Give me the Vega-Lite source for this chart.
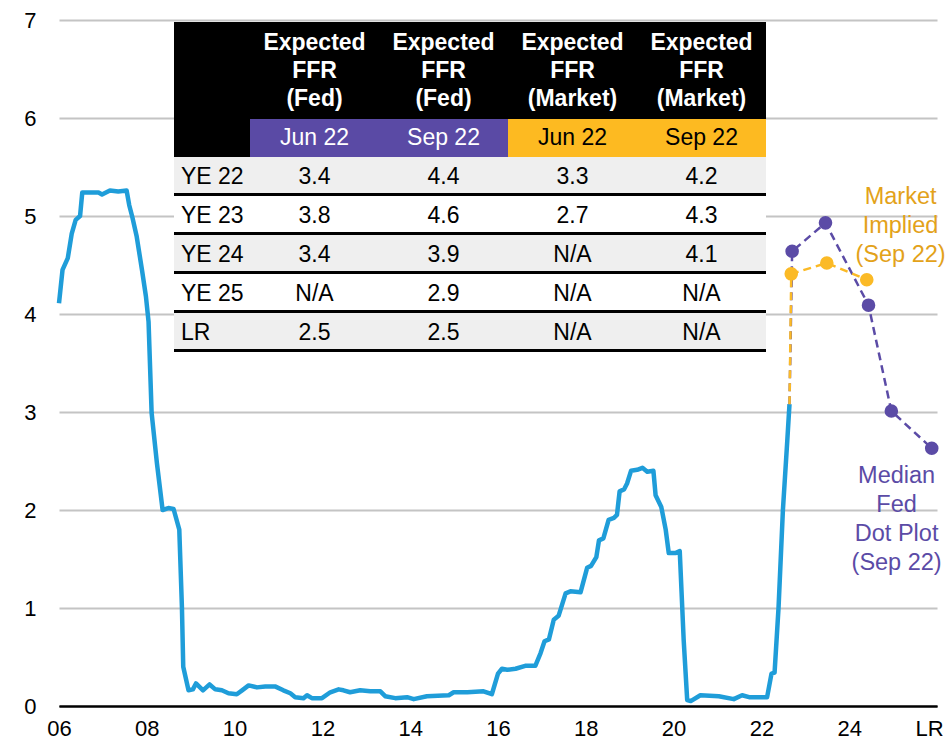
{
  "$schema": "https://vega.github.io/schema/vega-lite/v6.json",
  "width": 878,
  "height": 686,
  "autosize": {"type": "none"},
  "padding": {"left": 59, "top": 20, "right": 12, "bottom": 38},
  "background": "white",
  "config": {"font": "Liberation Sans", "view": {"stroke": null}},
  "datasets": {
    "ffr": [
      {"year": 2006.00, "rate": 4.11}, {"year": 2006.08, "rate": 4.45}, {"year": 2006.20, "rate": 4.57},
      {"year": 2006.29, "rate": 4.82}, {"year": 2006.38, "rate": 4.96}, {"year": 2006.48, "rate": 5.00},
      {"year": 2006.53, "rate": 5.24}, {"year": 2006.90, "rate": 5.24}, {"year": 2006.98, "rate": 5.22},
      {"year": 2007.16, "rate": 5.26}, {"year": 2007.35, "rate": 5.25}, {"year": 2007.54, "rate": 5.26},
      {"year": 2007.60, "rate": 5.11}, {"year": 2007.67, "rate": 4.99}, {"year": 2007.77, "rate": 4.79},
      {"year": 2007.89, "rate": 4.45}, {"year": 2007.98, "rate": 4.18}, {"year": 2008.04, "rate": 3.92},
      {"year": 2008.11, "rate": 2.99}, {"year": 2008.23, "rate": 2.48}, {"year": 2008.36, "rate": 2.00},
      {"year": 2008.49, "rate": 2.02}, {"year": 2008.61, "rate": 2.01}, {"year": 2008.74, "rate": 1.80},
      {"year": 2008.80, "rate": 1.01}, {"year": 2008.83, "rate": 0.40}, {"year": 2008.95, "rate": 0.16},
      {"year": 2009.05, "rate": 0.17}, {"year": 2009.12, "rate": 0.23}, {"year": 2009.28, "rate": 0.16},
      {"year": 2009.43, "rate": 0.22}, {"year": 2009.56, "rate": 0.17}, {"year": 2009.71, "rate": 0.16},
      {"year": 2009.86, "rate": 0.13}, {"year": 2010.05, "rate": 0.12}, {"year": 2010.17, "rate": 0.16},
      {"year": 2010.32, "rate": 0.21}, {"year": 2010.51, "rate": 0.19}, {"year": 2010.70, "rate": 0.20},
      {"year": 2010.92, "rate": 0.20}, {"year": 2011.11, "rate": 0.16}, {"year": 2011.27, "rate": 0.13},
      {"year": 2011.38, "rate": 0.09}, {"year": 2011.57, "rate": 0.08}, {"year": 2011.65, "rate": 0.11},
      {"year": 2011.76, "rate": 0.08}, {"year": 2011.99, "rate": 0.08}, {"year": 2012.18, "rate": 0.14},
      {"year": 2012.37, "rate": 0.17}, {"year": 2012.48, "rate": 0.16}, {"year": 2012.63, "rate": 0.14},
      {"year": 2012.86, "rate": 0.16}, {"year": 2013.09, "rate": 0.15}, {"year": 2013.32, "rate": 0.15},
      {"year": 2013.43, "rate": 0.10}, {"year": 2013.66, "rate": 0.08}, {"year": 2013.93, "rate": 0.09},
      {"year": 2014.08, "rate": 0.07}, {"year": 2014.38, "rate": 0.10}, {"year": 2014.88, "rate": 0.11},
      {"year": 2014.99, "rate": 0.14}, {"year": 2015.30, "rate": 0.14}, {"year": 2015.67, "rate": 0.15},
      {"year": 2015.86, "rate": 0.12}, {"year": 2016.00, "rate": 0.33}, {"year": 2016.09, "rate": 0.38},
      {"year": 2016.21, "rate": 0.37}, {"year": 2016.40, "rate": 0.38}, {"year": 2016.62, "rate": 0.41},
      {"year": 2016.85, "rate": 0.41}, {"year": 2016.97, "rate": 0.54}, {"year": 2017.06, "rate": 0.66},
      {"year": 2017.16, "rate": 0.68}, {"year": 2017.27, "rate": 0.88}, {"year": 2017.38, "rate": 0.92},
      {"year": 2017.54, "rate": 1.15}, {"year": 2017.65, "rate": 1.17}, {"year": 2017.88, "rate": 1.16},
      {"year": 2018.03, "rate": 1.41}, {"year": 2018.12, "rate": 1.43}, {"year": 2018.24, "rate": 1.52},
      {"year": 2018.30, "rate": 1.69}, {"year": 2018.40, "rate": 1.71}, {"year": 2018.52, "rate": 1.90},
      {"year": 2018.64, "rate": 1.92}, {"year": 2018.71, "rate": 1.95}, {"year": 2018.77, "rate": 2.19},
      {"year": 2018.87, "rate": 2.21}, {"year": 2018.94, "rate": 2.27}, {"year": 2019.03, "rate": 2.40},
      {"year": 2019.17, "rate": 2.41}, {"year": 2019.29, "rate": 2.43}, {"year": 2019.40, "rate": 2.39},
      {"year": 2019.54, "rate": 2.40}, {"year": 2019.59, "rate": 2.15}, {"year": 2019.72, "rate": 2.03},
      {"year": 2019.82, "rate": 1.80}, {"year": 2019.89, "rate": 1.56}, {"year": 2020.04, "rate": 1.56},
      {"year": 2020.14, "rate": 1.58}, {"year": 2020.23, "rate": 0.67}, {"year": 2020.31, "rate": 0.06},
      {"year": 2020.39, "rate": 0.05}, {"year": 2020.61, "rate": 0.11}, {"year": 2021.03, "rate": 0.10},
      {"year": 2021.37, "rate": 0.07}, {"year": 2021.56, "rate": 0.11}, {"year": 2021.72, "rate": 0.09},
      {"year": 2022.13, "rate": 0.09}, {"year": 2022.23, "rate": 0.33}, {"year": 2022.30, "rate": 0.34},
      {"year": 2022.39, "rate": 1.00}, {"year": 2022.49, "rate": 2.00}, {"year": 2022.59, "rate": 2.71},
      {"year": 2022.64, "rate": 3.08}
    ],
    "outlook": [
      {"series": "Fed", "horizon": "Now", "year": 2022.64, "rate": 3.08},
      {"series": "Fed", "horizon": "YE 22", "year": 2022.70, "rate": 4.64},
      {"series": "Fed", "horizon": "YE 23", "year": 2023.46, "rate": 4.93},
      {"series": "Fed", "horizon": "YE 24", "year": 2024.44, "rate": 4.09},
      {"series": "Fed", "horizon": "YE 25", "year": 2024.96, "rate": 3.01},
      {"series": "Fed", "horizon": "LR", "year": 2025.88, "rate": 2.63},
      {"series": "Market", "horizon": "Now", "year": 2022.64, "rate": 3.08},
      {"series": "Market", "horizon": "YE 22", "year": 2022.68, "rate": 4.41},
      {"series": "Market", "horizon": "YE 23", "year": 2023.49, "rate": 4.52},
      {"series": "Market", "horizon": "YE 24", "year": 2024.40, "rate": 4.35}
    ],
    "cells": [
      {"section": "head", "col": "label", "text": ""},
      {"section": "head", "col": "fedJun", "text": "Expected\nFFR\n(Fed)"},
      {"section": "head", "col": "fedSep", "text": "Expected\nFFR\n(Fed)"},
      {"section": "head", "col": "mktJun", "text": "Expected\nFFR\n(Market)"},
      {"section": "head", "col": "mktSep", "text": "Expected\nFFR\n(Market)"},
      {"section": "release", "col": "fedJun", "text": "Jun 22", "source": "Fed"},
      {"section": "release", "col": "fedSep", "text": "Sep 22", "source": "Fed"},
      {"section": "release", "col": "mktJun", "text": "Jun 22", "source": "Market"},
      {"section": "release", "col": "mktSep", "text": "Sep 22", "source": "Market"},
      {"section": "body", "row": "YE 22", "col": "label", "text": "YE 22"},
      {"section": "body", "row": "YE 22", "col": "fedJun", "text": "3.4"},
      {"section": "body", "row": "YE 22", "col": "fedSep", "text": "4.4"},
      {"section": "body", "row": "YE 22", "col": "mktJun", "text": "3.3"},
      {"section": "body", "row": "YE 22", "col": "mktSep", "text": "4.2"},
      {"section": "body", "row": "YE 23", "col": "label", "text": "YE 23"},
      {"section": "body", "row": "YE 23", "col": "fedJun", "text": "3.8"},
      {"section": "body", "row": "YE 23", "col": "fedSep", "text": "4.6"},
      {"section": "body", "row": "YE 23", "col": "mktJun", "text": "2.7"},
      {"section": "body", "row": "YE 23", "col": "mktSep", "text": "4.3"},
      {"section": "body", "row": "YE 24", "col": "label", "text": "YE 24"},
      {"section": "body", "row": "YE 24", "col": "fedJun", "text": "3.4"},
      {"section": "body", "row": "YE 24", "col": "fedSep", "text": "3.9"},
      {"section": "body", "row": "YE 24", "col": "mktJun", "text": "N/A"},
      {"section": "body", "row": "YE 24", "col": "mktSep", "text": "4.1"},
      {"section": "body", "row": "YE 25", "col": "label", "text": "YE 25"},
      {"section": "body", "row": "YE 25", "col": "fedJun", "text": "N/A"},
      {"section": "body", "row": "YE 25", "col": "fedSep", "text": "2.9"},
      {"section": "body", "row": "YE 25", "col": "mktJun", "text": "N/A"},
      {"section": "body", "row": "YE 25", "col": "mktSep", "text": "N/A"},
      {"section": "body", "row": "LR", "col": "label", "text": "LR"},
      {"section": "body", "row": "LR", "col": "fedJun", "text": "2.5"},
      {"section": "body", "row": "LR", "col": "fedSep", "text": "2.5"},
      {"section": "body", "row": "LR", "col": "mktJun", "text": "N/A"},
      {"section": "body", "row": "LR", "col": "mktSep", "text": "N/A"}
    ]
  },
  "layer": [
    {
      "layer": [
        {
          "data": {"name": "ffr"},
          "mark": {"type": "line", "color": "#1F9DD9", "strokeWidth": 4.5, "strokeJoin": "round", "strokeCap": "butt"},
          "encoding": {
            "x": {
              "field": "year", "type": "quantitative",
              "scale": {"domain": [2006, 2026], "nice": false, "zero": false},
              "axis": {
                "values": [2006, 2008, 2010, 2012, 2014, 2016, 2018, 2020, 2022, 2024, 2025.82],
                "labelExpr": "datum.value > 2025 ? 'LR' : substring(toString(datum.value), 2, 4)",
                "grid": false, "ticks": false, "domain": true, "domainColor": "#000000", "domainWidth": 2,
                "labelFontSize": 22, "labelColor": "#000000", "labelPadding": 12,
                "labelFlush": false, "labelOverlap": false, "title": null
              }
            },
            "y": {
              "field": "rate", "type": "quantitative",
              "scale": {"domain": [0, 7], "nice": false, "zero": true},
              "axis": {
                "values": [0, 1, 2, 3, 4, 5, 6, 7],
                "format": "d",
                "grid": true,
                "gridColor": {"condition": {"test": "datum.value === 0", "value": "#000000"}, "value": "#C4C4C4"},
                "gridWidth": 2, "domain": false, "ticks": false,
                "labelFontSize": 22, "labelColor": "#000000", "labelPadding": 23,
                "labelFlush": false, "title": null
              }
            }
          }
        },
        {
          "data": {"name": "outlook"},
          "transform": [{"filter": "datum.series === 'Fed'"}],
          "mark": {"type": "line", "color": "#5B4BA6", "strokeWidth": 2.5, "strokeDash": [8, 5]},
          "encoding": {
            "x": {"field": "year", "type": "quantitative"},
            "y": {"field": "rate", "type": "quantitative"}
          }
        },
        {
          "data": {"name": "outlook"},
          "transform": [{"filter": "datum.series === 'Market'"}],
          "mark": {"type": "line", "color": "#FBBA26", "strokeWidth": 2.5, "strokeDash": [8, 5]},
          "encoding": {
            "x": {"field": "year", "type": "quantitative"},
            "y": {"field": "rate", "type": "quantitative"}
          }
        },
        {
          "data": {"name": "outlook"},
          "transform": [{"filter": "datum.horizon !== 'Now'"}],
          "mark": {"type": "point", "filled": true, "opacity": 1, "size": 185},
          "encoding": {
            "x": {"field": "year", "type": "quantitative"},
            "y": {"field": "rate", "type": "quantitative"},
            "color": {
              "field": "series", "type": "nominal",
              "scale": {"domain": ["Fed", "Market"], "range": ["#5B4BA6", "#FBBA26"]},
              "legend": null
            }
          }
        },
        {
          "data": {"values": [{"note": "Market\nImplied\n(Sep 22)"}]},
          "mark": {"type": "text", "fontSize": 23.5, "lineBreak": "\n", "lineHeight": 29, "align": "center", "baseline": "middle", "dy": -29, "color": "#E3A21A"},
          "encoding": {
            "x": {"datum": 2025.17, "type": "quantitative"},
            "y": {"datum": 4.9, "type": "quantitative"},
            "text": {"field": "note", "type": "nominal"}
          }
        },
        {
          "data": {"values": [{"note": "Median\nFed\nDot Plot\n(Sep 22)"}]},
          "mark": {"type": "text", "fontSize": 23.5, "lineBreak": "\n", "lineHeight": 29, "align": "center", "baseline": "middle", "dy": -43.5, "color": "#5B4BA6"},
          "encoding": {
            "x": {"datum": 2025.08, "type": "quantitative"},
            "y": {"datum": 1.9, "type": "quantitative"},
            "text": {"field": "note", "type": "nominal"}
          }
        }
      ]
    },
    {
      "data": {"name": "cells"},
      "layer": [
        {
          "transform": [{"filter": "datum.section === 'head' && datum.col !== 'label'"}],
          "mark": {"type": "rect", "color": "#000000"},
          "encoding": {
            "x": {"field": "col", "type": "nominal", "axis": null,
                  "scale": {"type": "band", "domain": ["fedJun", "fedSep", "mktJun", "mktSep"], "range": [191, 707], "paddingInner": 0, "paddingOuter": 0}},
            "y": {"field": "section", "type": "nominal", "axis": null,
                  "scale": {"type": "band", "domain": ["head"], "range": [2, 99], "paddingInner": 0, "paddingOuter": 0}}
          }
        },
        {
          "transform": [{"filter": "datum.section === 'head' && datum.col === 'label'"}],
          "mark": {"type": "rect", "color": "#000000"},
          "encoding": {
            "x": {"field": "col", "type": "nominal", "axis": null,
                  "scale": {"type": "band", "domain": ["label"], "range": [115, 191], "paddingInner": 0, "paddingOuter": 0}},
            "y": {"field": "section", "type": "nominal", "axis": null,
                  "scale": {"type": "band", "domain": ["head"], "range": [2, 137], "paddingInner": 0, "paddingOuter": 0}}
          }
        },
        {
          "transform": [{"filter": "datum.section === 'head' && datum.col !== 'label'"}],
          "mark": {"type": "text", "color": "#FFFFFF", "fontSize": 23, "fontWeight": "bold", "lineBreak": "\n", "lineHeight": 28, "align": "center", "baseline": "middle", "dy": -28},
          "encoding": {
            "x": {"field": "col", "type": "nominal", "axis": null,
                  "scale": {"type": "band", "domain": ["fedJun", "fedSep", "mktJun", "mktSep"], "range": [191, 707], "paddingInner": 0, "paddingOuter": 0}},
            "y": {"field": "section", "type": "nominal", "axis": null,
                  "scale": {"type": "band", "domain": ["head"], "range": [2, 99], "paddingInner": 0, "paddingOuter": 0}},
            "text": {"field": "text", "type": "nominal"}
          }
        },
        {
          "transform": [{"filter": "datum.section === 'release'"}],
          "mark": {"type": "rect"},
          "encoding": {
            "x": {"field": "col", "type": "nominal", "axis": null,
                  "scale": {"type": "band", "domain": ["fedJun", "fedSep", "mktJun", "mktSep"], "range": [191, 707], "paddingInner": 0, "paddingOuter": 0}},
            "y": {"field": "section", "type": "nominal", "axis": null,
                  "scale": {"type": "band", "domain": ["release"], "range": [99, 137], "paddingInner": 0, "paddingOuter": 0}},
            "color": {"field": "source", "type": "nominal", "legend": null,
                      "scale": {"domain": ["Fed", "Market"], "range": ["#5A4AA5", "#FDBA21"]}}
          }
        },
        {
          "transform": [{"filter": "datum.section === 'release'"}],
          "mark": {"type": "text", "fontSize": 23, "align": "center", "baseline": "middle"},
          "encoding": {
            "x": {"field": "col", "type": "nominal", "axis": null,
                  "scale": {"type": "band", "domain": ["fedJun", "fedSep", "mktJun", "mktSep"], "range": [191, 707], "paddingInner": 0, "paddingOuter": 0}},
            "y": {"field": "section", "type": "nominal", "axis": null,
                  "scale": {"type": "band", "domain": ["release"], "range": [99, 137], "paddingInner": 0, "paddingOuter": 0}},
            "color": {"field": "source", "type": "nominal", "legend": null,
                      "scale": {"domain": ["Fed", "Market"], "range": ["#FFFFFF", "#000000"]}},
            "text": {"field": "text", "type": "nominal"}
          }
        },
        {
          "transform": [{"filter": "datum.section === 'body' && datum.col !== 'label'"}],
          "mark": {"type": "rect", "color": "#000000"},
          "encoding": {
            "x": {"field": "col", "type": "nominal", "axis": null,
                  "scale": {"type": "band", "domain": ["fedJun", "fedSep", "mktJun", "mktSep"], "range": [191, 707], "paddingInner": 0, "paddingOuter": 0}},
            "y": {"field": "row", "type": "nominal", "axis": null,
                  "scale": {"type": "band", "domain": ["YE 22", "YE 23", "YE 24", "YE 25", "LR"], "range": [137, 332], "paddingInner": 0, "paddingOuter": 0}}
          }
        },
        {
          "transform": [{"filter": "datum.section === 'body' && datum.col === 'label'"}],
          "mark": {"type": "rect", "color": "#000000"},
          "encoding": {
            "x": {"field": "col", "type": "nominal", "axis": null,
                  "scale": {"type": "band", "domain": ["label"], "range": [115, 191], "paddingInner": 0, "paddingOuter": 0}},
            "y": {"field": "row", "type": "nominal", "axis": null,
                  "scale": {"type": "band", "domain": ["YE 22", "YE 23", "YE 24", "YE 25", "LR"], "range": [137, 332], "paddingInner": 0, "paddingOuter": 0}}
          }
        },
        {
          "transform": [{"filter": "datum.section === 'body' && datum.col !== 'label'"}],
          "mark": {"type": "rect"},
          "encoding": {
            "x": {"field": "col", "type": "nominal", "axis": null,
                  "scale": {"type": "band", "domain": ["fedJun", "fedSep", "mktJun", "mktSep"], "range": [191, 707], "paddingInner": 0, "paddingOuter": 0}},
            "y": {"field": "row", "type": "nominal", "axis": null,
                  "scale": {"type": "band", "domain": ["YE 22", "YE 23", "YE 24", "YE 25", "LR"], "range": [137, 329], "paddingInner": 0.076923, "paddingOuter": 0}},
            "color": {"field": "row", "type": "nominal", "legend": null,
                      "scale": {"domain": ["YE 22", "YE 23", "YE 24", "YE 25", "LR"], "range": ["#EFEFEF", "#FFFFFF", "#EFEFEF", "#FFFFFF", "#EFEFEF"]}}
          }
        },
        {
          "transform": [{"filter": "datum.section === 'body' && datum.col === 'label'"}],
          "mark": {"type": "rect"},
          "encoding": {
            "x": {"field": "col", "type": "nominal", "axis": null,
                  "scale": {"type": "band", "domain": ["label"], "range": [115, 191], "paddingInner": 0, "paddingOuter": 0}},
            "y": {"field": "row", "type": "nominal", "axis": null,
                  "scale": {"type": "band", "domain": ["YE 22", "YE 23", "YE 24", "YE 25", "LR"], "range": [137, 329], "paddingInner": 0.076923, "paddingOuter": 0}},
            "color": {"field": "row", "type": "nominal", "legend": null,
                      "scale": {"domain": ["YE 22", "YE 23", "YE 24", "YE 25", "LR"], "range": ["#EFEFEF", "#FFFFFF", "#EFEFEF", "#FFFFFF", "#EFEFEF"]}}
          }
        },
        {
          "transform": [{"filter": "datum.section === 'body' && datum.col !== 'label'"}],
          "mark": {"type": "text", "fontSize": 23, "color": "#000000", "align": "center", "baseline": "middle"},
          "encoding": {
            "x": {"field": "col", "type": "nominal", "axis": null,
                  "scale": {"type": "band", "domain": ["fedJun", "fedSep", "mktJun", "mktSep"], "range": [191, 707], "paddingInner": 0, "paddingOuter": 0}},
            "y": {"field": "row", "type": "nominal", "axis": null,
                  "scale": {"type": "band", "domain": ["YE 22", "YE 23", "YE 24", "YE 25", "LR"], "range": [137, 332], "paddingInner": 0, "paddingOuter": 0}},
            "text": {"field": "text", "type": "nominal"}
          }
        },
        {
          "transform": [{"filter": "datum.section === 'body' && datum.col === 'label'"}],
          "mark": {"type": "text", "fontSize": 23, "color": "#000000", "align": "left", "baseline": "middle", "dx": 7},
          "encoding": {
            "x": {"field": "col", "type": "nominal", "axis": null, "bandPosition": 0,
                  "scale": {"type": "band", "domain": ["label"], "range": [115, 191], "paddingInner": 0, "paddingOuter": 0}},
            "y": {"field": "row", "type": "nominal", "axis": null,
                  "scale": {"type": "band", "domain": ["YE 22", "YE 23", "YE 24", "YE 25", "LR"], "range": [137, 332], "paddingInner": 0, "paddingOuter": 0}},
            "text": {"field": "text", "type": "nominal"}
          }
        }
      ],
      "resolve": {"scale": {"x": "independent", "y": "independent", "color": "independent"}}
    }
  ],
  "resolve": {"scale": {"x": "independent", "y": "independent", "color": "independent"}}
}
